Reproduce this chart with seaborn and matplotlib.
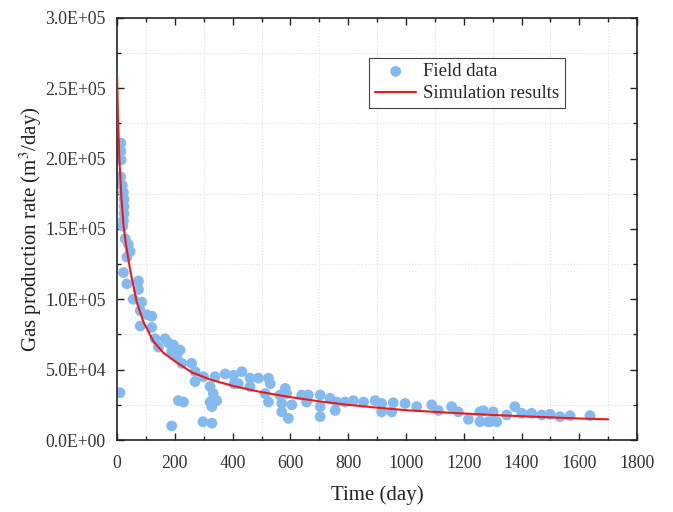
import numpy as np
import pandas as pd
import seaborn as sns
import matplotlib.pyplot as plt
from matplotlib.ticker import MultipleLocator, FuncFormatter

# Field data (time in days, rate in 1e3 m3/day)
field_t = [8, 10, 13, 13, 14, 12, 18, 22, 24, 24, 24, 22, 20, 28, 39, 34, 45, 22, 34,
           74, 74, 56, 85, 80, 103, 120, 80, 120, 131, 166, 143, 178, 195, 189, 218,
           207, 224, 258, 270, 299, 270, 339, 374, 322, 333, 345, 322, 328, 212, 230,
           189, 297, 328, 403, 432, 405, 420, 460, 460, 489, 524, 530, 512, 524, 564,
           582, 587, 570, 570, 593, 605, 639, 662, 656, 703, 703, 703, 737, 755, 760,
           789, 818, 853, 893, 916, 916, 956, 951, 997, 1037, 1089, 1112, 1158, 1181,
           1216, 1256, 1256, 1285, 1268, 1302, 1291, 1314, 1349, 1377, 1401, 1435,
           1470, 1499, 1533, 1568, 1637]
field_q = [187, 33.6, 211, 205, 199, 187, 181, 176, 171, 166, 161, 156, 152, 143, 139,
           130, 134, 119, 111, 113, 107, 100, 98, 92, 89, 88, 81, 80, 72, 72, 66, 69,
           67.5, 63, 64, 59, 54.5, 54.5, 48.6, 45, 41.5, 45, 47, 38, 33, 28, 27, 23.7,
           28, 27, 10, 13, 12, 46, 48.6, 40, 40, 44, 38, 44, 44, 40, 33, 27, 32, 36.7,
           33, 26, 20, 15.4, 25, 32, 32, 27, 32, 23.7, 16.6, 29.6, 21, 27, 27, 28, 27,
           28, 26, 20, 26.5, 20, 26, 23.7, 25, 21, 23.7, 20, 14.7, 20, 13, 13, 20.8,
           20, 13, 13, 17.8, 23.7, 19, 19, 17.8, 18.3, 16.6, 17.3, 17.3]

# Simulation curve
sim_t = [0, 3, 8, 15, 22, 30, 45, 68, 91, 126, 160, 207, 260, 322, 400, 500, 600,
         700, 800, 900, 1000, 1150, 1300, 1450, 1600, 1700]
sim_q = [260, 228, 199, 172, 153, 140, 121, 98, 84, 70, 62, 55, 48, 43, 38.5, 34,
         30.5, 27.5, 25, 23, 21.2, 19.4, 17.8, 16.5, 15.3, 14.7]

field = pd.DataFrame({"t": field_t, "q": np.array(field_q) * 1000})
sim = pd.DataFrame({"t": sim_t, "q": np.array(sim_q) * 1000})

sns.set_style("ticks")
plt.rcParams["font.family"] = ["Liberation Serif", "DejaVu Serif"]
plt.rcParams["mathtext.fontset"] = "stix"

fig = plt.figure(figsize=(6.73, 5.12), dpi=100)
ax = fig.add_axes([0.174, 0.1406, 0.7726, 0.8244])

sns.scatterplot(data=field, x="t", y="q", ax=ax, color="#84BAF0", s=60,
                edgecolor="none", label="Field data", zorder=2)
sns.lineplot(data=sim, x="t", y="q", ax=ax, color="#F01818", lw=1.5,
             label="Simulation results", zorder=3)

ax.set_xlim(0, 1800)
ax.set_ylim(0, 300000)
ax.xaxis.set_major_locator(MultipleLocator(200))
ax.xaxis.set_minor_locator(MultipleLocator(100))
ax.yaxis.set_major_locator(MultipleLocator(50000))
ax.yaxis.set_minor_locator(MultipleLocator(25000))
ax.yaxis.set_major_formatter(FuncFormatter(lambda v, p: f"{v:.1E}"))

ax.grid(which="minor", color="#e0e0e0", linestyle=":", lw=0.8)
ax.grid(which="major", visible=False)

ax.tick_params(which="both", direction="in", top=True, right=True, labelsize=12.8,
               colors="#222222", width=1)
ax.tick_params(which="major", length=5)
ax.tick_params(which="minor", length=3)
ax.tick_params(axis="y", which="major", pad=8)
ax.tick_params(axis="x", which="major", pad=11)
ax.tick_params(axis="both", labelcolor="#333333")
for sp in ax.spines.values():
    sp.set_linewidth(1.2)
    sp.set_color("#222222")

ax.set_xlabel("Time (day)", fontsize=15, color="#222222", labelpad=9)
ax.set_ylabel("Gas production rate (m$^3$/day)", fontsize=15, color="#222222", labelpad=1)

leg = ax.legend(loc="upper left", bbox_to_anchor=(0.478, 0.915), fontsize=13.5,
                frameon=True, fancybox=False, edgecolor="#444444", framealpha=1,
                borderpad=0.3, handlelength=2.2, handletextpad=0.35, labelspacing=0.25,
                borderaxespad=0.2)
leg.get_frame().set_linewidth(0.8)

fig.savefig("out.png", dpi=100)
